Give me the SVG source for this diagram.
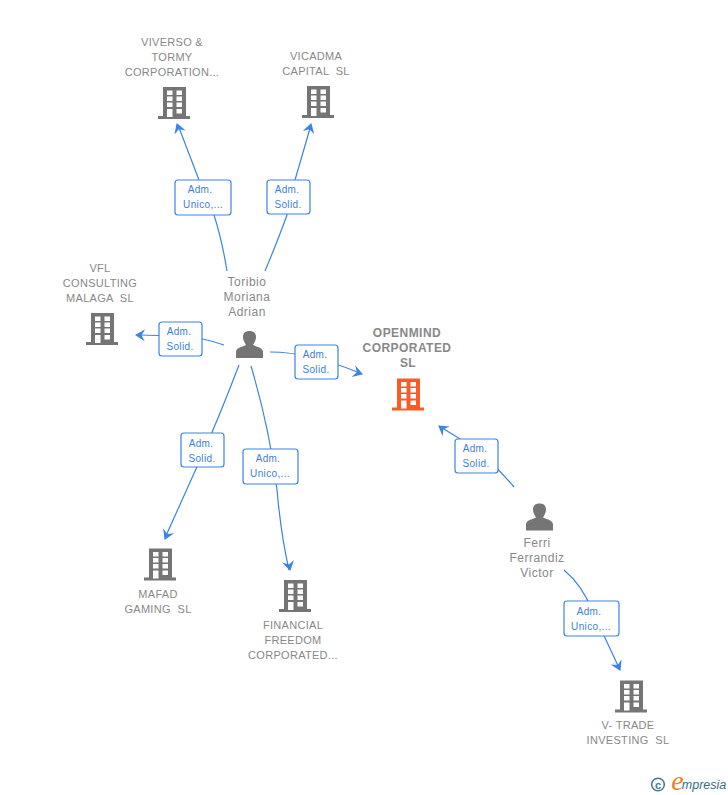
<svg xmlns="http://www.w3.org/2000/svg" width="728" height="795" viewBox="0 0 728 795">
<style>
text{font-family:"Liberation Sans",Arial,sans-serif;text-anchor:middle;white-space:pre}
.n{font-size:11px;letter-spacing:.3px;fill:#888}
.p{font-size:12px;letter-spacing:.5px;fill:#888}
.o{font-size:12px;letter-spacing:.45px;font-weight:bold;fill:#888}
.l{font-size:10px;letter-spacing:.35px;fill:#3b7fdd}
.b{fill:#fff;stroke:#3b83e6;stroke-width:1.2}
.c{fill:none;stroke:#3b83e6;stroke-width:1.2}
.a{fill:#3b83e6}
</style>
<defs>
<g id="bld"><path d="M-11 -16H12V13H16V16H-16V13H-11Z"/>
<g fill="#fff"><rect x="-7" y="-12.500" width="5.500" height="4.500"/><rect x="2.500" y="-12.500" width="5.500" height="4.500"/><rect x="-7" y="-6.500" width="5.500" height="4.500"/><rect x="2.500" y="-6.500" width="5.500" height="4.500"/><rect x="-7" y="-0.500" width="5.500" height="4.500"/><rect x="2.500" y="-0.500" width="5.500" height="4.500"/><rect x="-7" y="6" width="5.500" height="8"/><rect x="2.500" y="6" width="5.500" height="4.500"/></g></g>
<path id="per" fill="#757575" d="M-13.500 15V9C-13.500 5 -8 4 -3.500 2C-5.500 -1 -6.500 -3.500 -6.500 -6C-6.500 -10 -4 -12 0 -12C4 -12 6.500 -10 6.500 -6C6.500 -3.500 5.500 -1 3.500 2C8 4 13.500 5 13.500 9V15Z"/>
<path id="arr" d="M1 0L-9 -6L-5.500 0L-9 6Z"/>
</defs>
<g id="connectors">
<path class="c" d="M227 271Q222 240 214 215L199 180L178 125"/>
<use href="#arr" class="a" transform="translate(177 124) rotate(-110)"/>
<path class="c" d="M265 271Q278 240 287 215L295 180L311 125"/>
<use href="#arr" class="a" transform="translate(311 124) rotate(-74)"/>
<path class="c" d="M224 345Q205 338 180 336L137 335"/>
<use href="#arr" class="a" transform="translate(136 335) rotate(182)"/>
<path class="c" d="M270 352Q310 352 362 374"/>
<use href="#arr" class="a" transform="translate(362 374) rotate(18)"/>
<path class="c" d="M239 365Q220 415 200 460L165 538"/>
<use href="#arr" class="a" transform="translate(165 539) rotate(114)"/>
<path class="c" d="M251 366Q270 430 277 490Q281 535 289 570"/>
<use href="#arr" class="a" transform="translate(290 570) rotate(78)"/>
<path class="c" d="M514 487Q495 465 478 450L439 426"/>
<use href="#arr" class="a" transform="translate(439 426) rotate(-143)"/>
<path class="c" d="M564 570Q582 585 592 610L620 670"/>
<use href="#arr" class="a" transform="translate(620 670) rotate(65)"/>
</g>
<g id="label1"><rect class="b" x="175" y="180" width="56" height="35" rx="3"/><text class="l" x="200" y="193">Adm.</text><text class="l" x="203" y="208">Unico,...</text></g>
<g id="label2"><rect class="b" x="267" y="180" width="43" height="34" rx="3"/><text class="l" x="287" y="193">Adm.</text><text class="l" x="288" y="208">Solid.</text></g>
<g id="label3"><rect class="b" x="159" y="322" width="43" height="34" rx="3"/><text class="l" x="179" y="335">Adm.</text><text class="l" x="180" y="350">Solid.</text></g>
<g id="label4"><rect class="b" x="295" y="345" width="43" height="34" rx="3"/><text class="l" x="315" y="358">Adm.</text><text class="l" x="316" y="373">Solid.</text></g>
<g id="label5"><rect class="b" x="181" y="433" width="43" height="34" rx="3"/><text class="l" x="201" y="447">Adm.</text><text class="l" x="202" y="462">Solid.</text></g>
<g id="label6"><rect class="b" x="243" y="449" width="55" height="35" rx="3"/><text class="l" x="268" y="462">Adm.</text><text class="l" x="270" y="477">Unico,...</text></g>
<g id="label7"><rect class="b" x="455" y="439" width="43" height="34" rx="3"/><text class="l" x="475" y="452">Adm.</text><text class="l" x="476" y="467">Solid.</text></g>
<g id="label8"><rect class="b" x="564" y="601" width="55" height="35" rx="3"/><text class="l" x="589" y="615">Adm.</text><text class="l" x="591" y="630">Unico,...</text></g>
<g id="viverso"><text class="n" x="172" y="46">VIVERSO &amp;</text><text class="n" x="172" y="61">TORMY</text><text class="n" x="172" y="76">CORPORATION...</text><use href="#bld" fill="#757575" transform="translate(174 103)"/></g>
<g id="vicadma"><text class="n" x="316" y="60">VICADMA</text><text class="n" x="316" y="75">CAPITAL  SL</text><use href="#bld" fill="#757575" transform="translate(318 102)"/></g>
<g id="vfl"><text class="n" x="100" y="272">VFL</text><text class="n" x="100" y="287">CONSULTING</text><text class="n" x="100" y="302">MALAGA  SL</text><use href="#bld" fill="#757575" transform="translate(102 329)"/></g>
<g id="toribio"><text class="p" x="247" y="286">Toribio</text><text class="p" x="247" y="301">Moriana</text><text class="p" x="247" y="316">Adrian</text><use href="#per" transform="translate(249.500 343)"/></g>
<g id="openmind"><text class="o" x="407" y="337">OPENMIND</text><text class="o" x="407" y="352">CORPORATED</text><text class="o" x="408" y="367">SL</text><use href="#bld" fill="#ff5a26" transform="translate(408 394.500)"/></g>
<g id="mafad"><text class="n" x="158" y="598">MAFAD</text><text class="n" x="158" y="613">GAMING  SL</text><use href="#bld" fill="#757575" transform="translate(160 564.500)"/></g>
<g id="financial"><text class="n" x="293" y="629">FINANCIAL</text><text class="n" x="293" y="644">FREEDOM</text><text class="n" x="293" y="659">CORPORATED...</text><use href="#bld" fill="#757575" transform="translate(295 596)"/></g>
<g id="ferri"><use href="#per" transform="translate(539.500 515.500)"/><text class="p" x="537" y="547">Ferri</text><text class="p" x="537" y="562">Ferrandiz</text><text class="p" x="537" y="577">Victor</text></g>
<g id="vtrade"><use href="#bld" fill="#757575" transform="translate(631 696.500)"/><text class="n" x="628" y="729">V- TRADE</text><text class="n" x="628" y="744">INVESTING  SL</text></g>
<g id="logo"><circle cx="658" cy="784.500" r="6.300" fill="none" stroke="#3d7a90" stroke-width="1.500"/><text x="658" y="788.500" style="font-size:11px;fill:#3d7a90;font-weight:bold">c</text><text x="677.500" y="790" style="font-family:'Liberation Serif',serif;font-size:28px;font-style:italic;fill:#f08020">e</text><text x="704" y="788.500" style="font-size:12.500px;font-style:italic;fill:#2f6f85">mpresia</text></g>
</svg>
